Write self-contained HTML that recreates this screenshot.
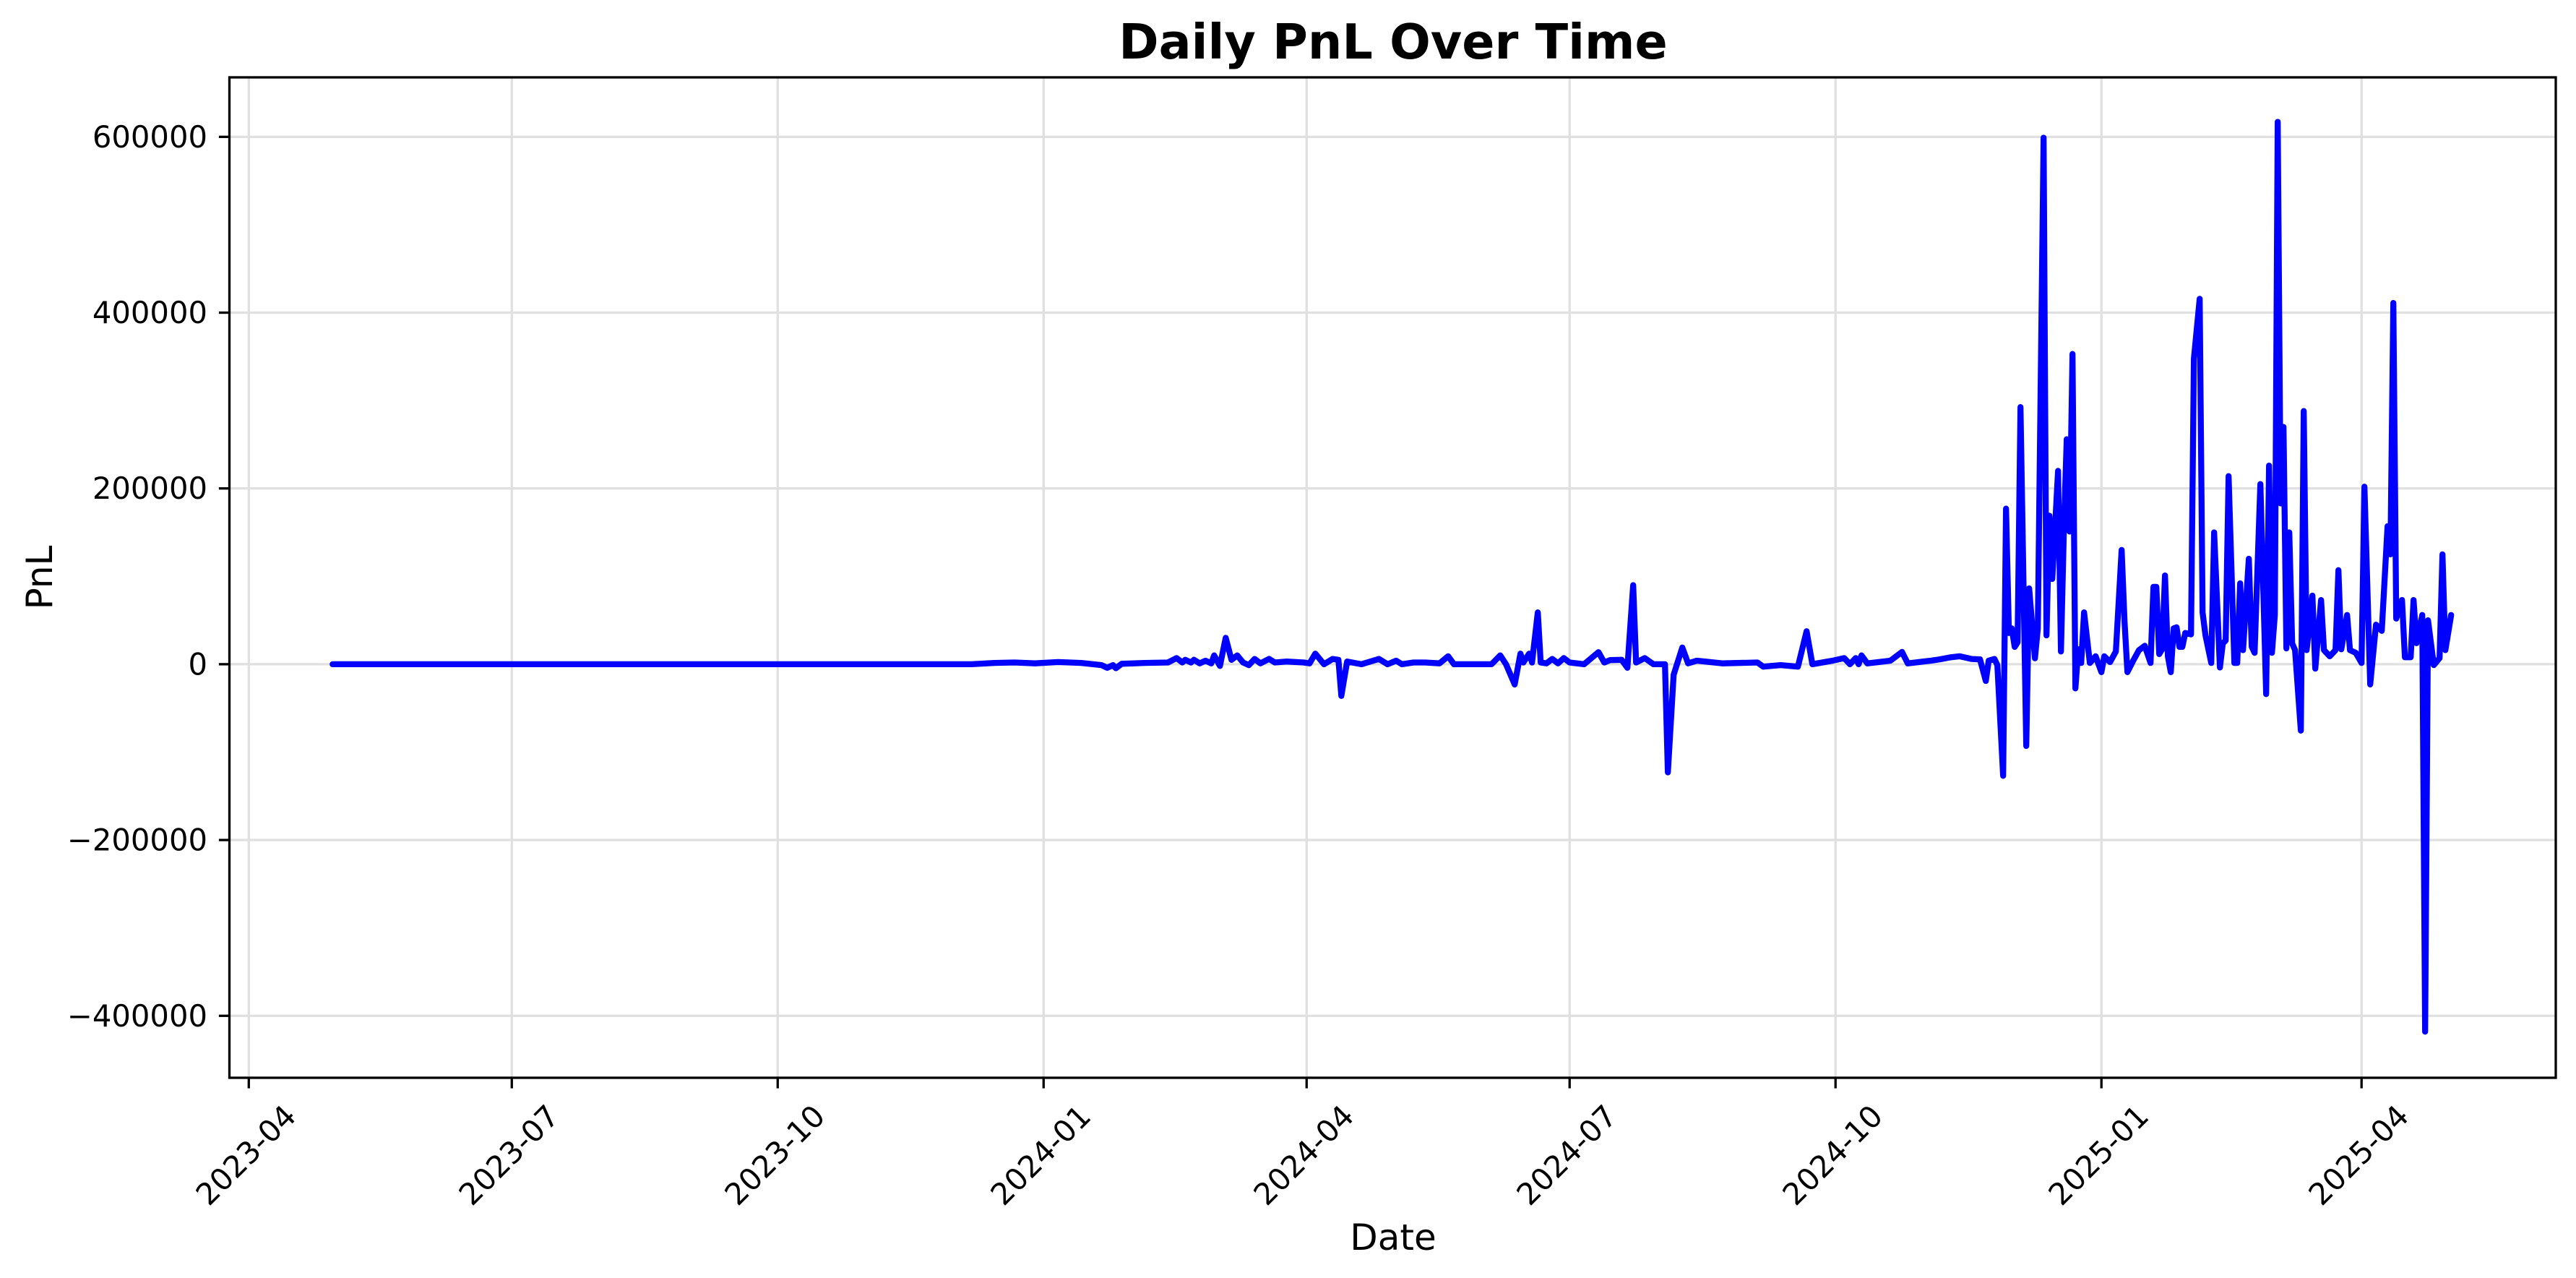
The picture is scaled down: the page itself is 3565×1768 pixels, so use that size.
<!DOCTYPE html>
<html><head><meta charset="utf-8"><style>
html,body{margin:0;padding:0;background:#fff;}
svg{display:block;}
text{font-family:"DejaVu Sans","Liberation Sans",sans-serif;fill:#000;}
</style></head>
<body>
<svg id="chart" width="3565" height="1768" viewBox="0 0 3565 1768" xmlns="http://www.w3.org/2000/svg">
<rect x="0" y="0" width="3565" height="1768" fill="#fff"/>
<g id="grid"></g>
<g id="series"></g>
<g id="axes"></g>
<text x="1928" y="81" text-anchor="middle" font-size="66.7" font-weight="bold">Daily PnL Over Time</text>
<text x="1928" y="1729" text-anchor="middle" font-size="50">Date</text>
<text x="0" y="0" text-anchor="middle" dominant-baseline="central" font-size="50" transform="translate(55,799) rotate(-90)">PnL</text>
</svg>
<script>
// day offsets since 2023-04-01
const dayOffsets = [
29,60,100,150,200,250,258,265,272,280,288,295,297,299,300,302,310,318,321,323,324,326,327,329,331,333,334,336,338,340,342,344,346,348,350,353,355,359,365,367,369,372,375,377,378,380,385,391,394,397,399,403,407,412,415,417,425,430,
433,435,438,440,441,443,444,446,447,449,451,453,455,457,462,467,469,471,475,477,479,480,483,486,490,491,493,496,498,501,510,522,524,530,536,539,541,548,552,554,556,557,558,560,568,572,574,582,585,589,592,596,599,601,602,604,605,
607,608,609,610,611,612,613,615,616,618,619,621,622,623,624,626,627,628,629,630,631,632,633,634,635,637,639,641,642,644,646,648,649,650,652,654,656,658,659,660,661,662,663,664,665,666,667,668,669,670,672,673,675,676,677,679,
680,682,683,684,685,687,688,689,690,692,693,694,696,698,699,700,701,702,703,704,705,706,707,708,710,711,712,714,715,717,718,720,722,723,724,726,727,729,731,732,734,736,738,740,741,742,743,745,746,748,749,750,752,753,754,756,758,759,760,762
];
const pnlValues = [
0,0,0,0,0,0,1500,2000,1000,2500,1500,-1000,-4000,-1000,-4500,500,1500,2000,7000,2000,5000,2000,5000,1000,4000,1000,10000,-2000,30000,5000,10000,2000,-1000,6000,1000,6000,2000,3000,2000,1000,12000,0,6000,5000,-36000,3000,0,6000,0,4000,0,2000,2000,1000,9000,0,0,0,
10000,0,-23000,12000,2000,12000,2000,59000,2000,1000,6000,1000,7000,2000,0,13700,2000,4700,5000,-4000,90000,2000,7000,0,0,-123000,-12000,19000,1000,4000,1000,2000,-2700,-1000,-2700,37500,0,4000,7000,0,7000,0,10000,1000,4000,14000,1000,4000,5500,8000,9000,6000,5500,-19000,4000,6000,-1000,
-127000,177000,35500,40700,19700,25000,292500,-93000,86300,6700,40700,599000,32800,169000,97000,220000,14500,151000,256000,151000,353000,-27500,17000,1500,59000,1500,9000,-9000,9000,2500,14500,130000,48600,-9000,4000,16000,21000,1500,88000,88000,11600,17000,101000,9000,-9000,40700,42000,19700,19700,35500,34000,347500,415700,59000,33000,1500,
150000,-3700,23700,27000,214000,1500,1500,92000,16000,120000,20000,13000,205000,-34000,226000,13000,56000,617000,183000,270000,18000,150000,23700,16000,-75500,288000,16000,78000,-5000,73000,16000,9000,16000,107000,17000,56000,16000,13000,1500,202000,-23000,45000,38000,157000,125000,411000,52000,73000,8000,8000,73000,24000,56000,-418000,50000,-1000,7000,125000,16000,56000
];
const xTickDays = [0,91,183,275,366,457,549,641,731];
const xTickLabels = ["2023-04","2023-07","2023-10","2024-01","2024-04","2024-07","2024-10","2025-01","2025-04"];
const yTickValues = [-400000,-200000,0,200000,400000,600000];
const yTickLabels = ["\u2212400000","\u2212200000","0","200000","400000","600000"];

const NS = "http://www.w3.org/2000/svg";
const L = 317.5, R = 3537, T = 107, B = 1491;
const xDomain = [-6.7, 798.2], yDomain = [-470500, 667700];
function xScale(d){ return L + (d - xDomain[0]) / (xDomain[1] - xDomain[0]) * (R - L); }
function yScale(v){ return B - (v - yDomain[0]) / (yDomain[1] - yDomain[0]) * (B - T); }
function mk(tag, attrs, parent){ const e = document.createElementNS(NS, tag); for (const k in attrs) e.setAttribute(k, attrs[k]); parent.appendChild(e); return e; }

const grid = document.getElementById('grid');
const axes = document.getElementById('axes');
const series = document.getElementById('series');

xTickDays.forEach((d, i) => {
  const x = xScale(d);
  const gl = mk('line', {x1:x, x2:x, y1:T, y2:B, stroke:'#e0e0e0', 'stroke-width':3.3}, grid);
  
  
  const tk = mk('line', {x1:x, x2:x, y1:B, y2:B+14.6, stroke:'#000', 'stroke-width':3.3}, axes);
  
  
  const cx = x - 4, cy = 1598;
  const t = mk('text', {x:cx, y:cy, 'text-anchor':'middle', 'dominant-baseline':'central', 'font-size':41.7, transform:`rotate(-45 ${cx} ${cy})`}, axes);
  t.textContent = xTickLabels[i];
  
  
});

yTickValues.forEach((v, i) => {
  const y = yScale(v);
  const gl = mk('line', {x1:L, x2:R, y1:y, y2:y, stroke:'#e0e0e0', 'stroke-width':3.3}, grid);
  
  
  const tk = mk('line', {x1:L-14.6, x2:L, y1:y, y2:y, stroke:'#000', 'stroke-width':3.3}, axes);
  
  
  const t = mk('text', {x:287, y:y, 'text-anchor':'end', 'dominant-baseline':'central', 'font-size':41.7}, axes);
  t.textContent = yTickLabels[i];
  
  
});

const frame = mk('rect', {x:L, y:T, width:R-L, height:B-T, fill:'none', stroke:'#000', 'stroke-width':3.3}, axes);



const pts = dayOffsets.map((d, i) => xScale(d).toFixed(1) + ',' + yScale(pnlValues[i]).toFixed(1)).join(' ');
const line = mk('polyline', {points:pts, fill:'none', stroke:'#0000ff', 'stroke-width':8.3, 'stroke-linejoin':'round', 'stroke-linecap':'round'}, series);


</script>
</body></html>
